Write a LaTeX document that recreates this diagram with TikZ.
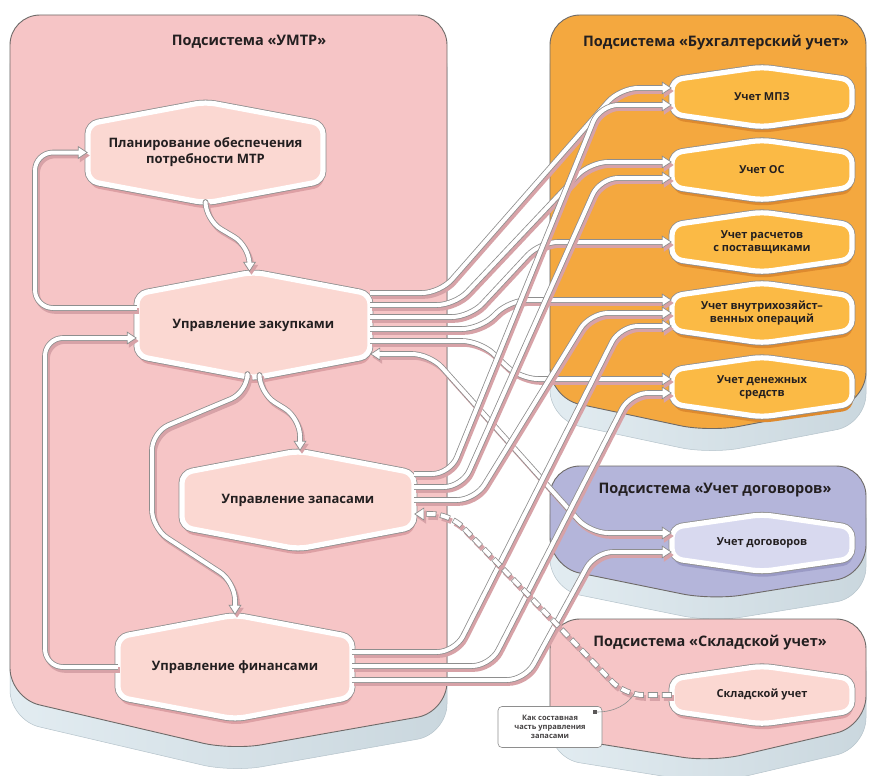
\documentclass[tikz,border=0pt]{standalone}
\usepackage{fontspec}
\setmainfont{Open Sans}
\usetikzlibrary{arrows.meta,calc}

\definecolor{umtr}{HTML}{F6C5C6}
\definecolor{umtrnode}{HTML}{FBD8D2}
\definecolor{umtrshadow}{HTML}{DDA0A4}
\definecolor{buh}{HTML}{F4A83F}
\definecolor{buhnode}{HTML}{FBBA45}
\definecolor{buhshadow}{HTML}{DE8A2E}
\definecolor{dog}{HTML}{B4B5DA}
\definecolor{dognode}{HTML}{D8D9EF}
\definecolor{dogshadow}{HTML}{9A9AC5}
\definecolor{baseL}{HTML}{E2ECF1}
\definecolor{baseR}{HTML}{CAD7DE}
\definecolor{baseline}{HTML}{B5C3CB}
\definecolor{panelline}{HTML}{6E6A68}
\definecolor{wiregray}{HTML}{8E8E8E}
\definecolor{wireshadow}{HTML}{D7A2A7}
\definecolor{txt}{HTML}{231F20}

\tikzset{
  ttl/.style={font=\bfseries\fontsize{14.5}{17}\selectfont, text=txt},
  bigtxt/.style={font=\bfseries\fontsize{13}{16}\selectfont, text=txt, align=center},
  smalltxt/.style={font=\bfseries\fontsize{11}{13}\selectfont, text=txt, align=center},
  notetxt/.style={font=\bfseries\fontsize{7.5}{9}\selectfont, text=txt!85, align=center},
  wire/.style={rounded corners=18pt, line join=round},
  layershadow/.style={draw=wireshadow, line width=5.6pt,
    tipe/.style={-{Triangle[length=10pt,width=13pt]}},
    tipb/.style={{Triangle[length=10pt,width=13pt]}-{Triangle[length=10pt,width=13pt]}},
    dashy/.style={dash pattern=on 10pt off 4pt}},
  layerout/.style={draw=wiregray, line width=5.6pt,
    tipe/.style={-{Triangle[length=10pt,width=13pt,fill=white,line width=0.7pt]}},
    tipb/.style={{Triangle[length=10pt,width=13pt,fill=white,line width=0.7pt]}-{Triangle[length=10pt,width=13pt,fill=white,line width=0.7pt]}},
    dashy/.style={dash pattern=on 10pt off 4pt}},
  layerin/.style={draw=white, line width=4pt,
    tipe/.style={shorten >=8.4pt},
    tipb/.style={shorten >=8.4pt, shorten <=8.4pt},
    dashy/.style={dash pattern=on 8.6pt off 5.4pt, dash phase=13.3pt}},
}

% left, top, right, y bottom-left, x point, y point, y bottom-right, colour
\newcommand\drawpanel[8]{%
  \path[rounded corners=30pt, left color=baseL, right color=baseR, draw=baseline, line width=0.5pt]
    (#1,#2+22) -- (#3,#2+22) -- (#3,#7+22) -- (#5,#6+22) -- (#1,#4+22) -- cycle;
  \path[rounded corners=30pt, fill=#8, draw=panelline, line width=0.9pt]
    (#1,#2) -- (#3,#2) -- (#3,#7) -- (#5,#6) -- (#1,#4) -- cycle;
}

% name, cx, cy, w, h, d, scheme, text style, text
\newcommand\hexnode[9]{%
  \begin{scope}[shift={(#2,#3)}]
    \fill[#7shadow, rounded corners=10pt, shift={(1,6)}]
      (-#4/2,-#5/2+#6) -- (0,-#5/2) -- (#4/2,-#5/2+#6) -- (#4/2,#5/2-#6) -- (0,#5/2) -- (-#4/2,#5/2-#6) -- cycle;
    \draw[wiregray, line width=6.8pt, rounded corners=10pt]
      (-#4/2,-#5/2+#6) -- (0,-#5/2) -- (#4/2,-#5/2+#6) -- (#4/2,#5/2-#6) -- (0,#5/2) -- (-#4/2,#5/2-#6) -- cycle;
    \draw[white, fill=#7node, line width=5.2pt, rounded corners=10pt]
      (-#4/2,-#5/2+#6) -- (0,-#5/2) -- (#4/2,-#5/2+#6) -- (#4/2,#5/2-#6) -- (0,#5/2) -- (-#4/2,#5/2-#6) -- cycle;
  \end{scope}
  \node[#8, minimum width=#4, minimum height=#5, inner sep=0pt] (#1) at (#2,#3) {#9};
}

\newcommand\wire[2]{%
  \begin{scope}[transform canvas={xshift=2pt,yshift=-3pt}]
    \draw[wire, layershadow, #1] #2;
  \end{scope}
  \draw[wire, layerout, #1] #2;
  \draw[wire, layerin, #1] #2;
}

\begin{document}
\begin{tikzpicture}[x=1pt,y=-1pt]
\useasboundingbox (0,0) rectangle (870,776);
\fill[white] (0,0) rectangle (870,776);

% panels
\drawpanel{10}{15}{447}{698}{232}{750}{712}{umtr}
\drawpanel{550}{15}{866}{398}{710}{432}{402}{buh}
\drawpanel{550}{466}{866}{567}{712}{600}{575}{dog}
\drawpanel{550}{619}{866}{736}{712}{762}{726}{umtr}

\node[ttl] (t1) at (249,42) {Подсистема «УМТР»};
\node[ttl] (t2) at (716,43) {Подсистема «Бухгалтерский учет»};
\node[ttl] (t3) at (715,490) {Подсистема «Учет договоров»};
\node[ttl] (t4) at (710,643) {Подсистема «Складской учет»};

% nodes
\hexnode{plan}{205.5}{152.5}{235}{101}{22}{umtr}{bigtxt}{Планирование обеспечения\\потребности МТР}
\hexnode{zak}{253.5}{325}{233}{106}{22}{umtr}{bigtxt}{Управление закупками}
\hexnode{zap}{298}{500}{232}{98}{22}{umtr}{bigtxt}{Управление запасами}
\hexnode{fin}{235}{667}{234}{104}{22}{umtr}{bigtxt}{Управление финансами}

\hexnode{mpz}{762}{97}{180}{60}{13}{buh}{smalltxt}{Учет МПЗ}
\hexnode{os}{762}{170}{180}{60}{13}{buh}{smalltxt}{Учет ОС}
\hexnode{ras}{762}{242}{180}{60}{13}{buh}{smalltxt}{Учет расчетов\\с поставщиками}
\hexnode{vnu}{762}{313}{180}{60}{13}{buh}{smalltxt}{Учет внутрихозяйст–\\венных операций}
\hexnode{den}{762}{387}{180}{60}{13}{buh}{smalltxt}{Учет денежных\\средств}
\hexnode{dg}{762}{543}{180}{57}{13}{dog}{smalltxt}{Учет договоров}
\hexnode{skl}{762}{695}{180}{58}{13}{umtr}{smalltxt}{Складской учет}

% inner UMTR connectors
\wire{tipe}{(plan.south) -- (205.5,220) -- (249.5,246) -- ([xshift=-4pt]zak.north)}
\wire{tipe}{([yshift=17pt]zak.west) -- (35,308) -- (35,152.5) -- (plan.west)}
\wire{tipe}{(fin.west) -- (45,667) -- (45,338) -- ([yshift=-13pt]zak.west)}
\wire{tipe}{([xshift=6pt]zak.south) -- (259.5,393) -- (300,418) -- ([xshift=2pt]zap.north)}
\wire{tipe}{([xshift=-6pt]zak.south) -- (247.5,392) -- (152,432) -- (152,528) -- (235,582) -- (fin.north)}

% from Закупки
\wire{tipe}{([yshift=32pt]zak.east) -- (440,293) -- (620,88) -- ([yshift=9pt]mpz.west)}
\wire{tipe}{([yshift=20pt]zak.east) -- (455,305) -- (590,162) -- ([yshift=8pt]os.west)}
\wire{tipe}{([yshift=8pt]zak.east) -- (470,317) -- (540,242) -- (ras.west)}
\wire{tipe}{([yshift=-4pt]zak.east) -- (480,329) -- (510,300) -- ([yshift=13pt]vnu.west)}
\wire{tipe}{([yshift=-16pt]zak.east) -- (480,341) -- (520,379) -- ([yshift=8pt]den.west)}
\wire{tipb}{([yshift=-29pt]zak.east) -- (430,354) -- (590,533) -- ([yshift=10pt]dg.west)}

% from Запасы
\wire{tipe}{([yshift=26pt]zap.east) -- (450,474) -- (600,105) -- ([yshift=-8pt]mpz.west)}
\wire{tipe}{([yshift=13pt]zap.east) -- (462,487) -- (600,178) -- ([yshift=-8pt]os.west)}
\wire{tipe}{(zap.east) -- (475,500) -- (590,313) -- (vnu.west)}

% from Финансы
\wire{tipe}{([yshift=15pt]fin.east) -- (455,652) -- (620,326) -- ([yshift=-13pt]vnu.west)}
\wire{tipe}{([yshift=1pt]fin.east) -- (490,666) -- (630,393) -- ([yshift=-6pt]den.west)}
\wire{tipe}{([yshift=-13pt]fin.east) -- (525,680) -- (595,552) -- ([yshift=-9pt]dg.west)}

% Складской учет -> Запасы (dashed)
\wire{tipe,dashy}{(skl.west) -- (625,695) -- (450,514) -- ([yshift=-14pt]zap.east)}

% callout
\node[notetxt, draw=wiregray, fill=white, rounded corners=4pt, line width=0.6pt,
      minimum width=104pt, minimum height=41pt, inner sep=2pt] (note) at (550,727)
      {Как составная\\часть управления\\запасами};
\node[fill=txt!75, minimum size=3.2pt, inner sep=0pt] (mark) at (595,712) {};
\coordinate (notept) at (634,694);
\draw[wiregray, line width=0.6pt] (mark) .. controls (615,712) and (628,704) .. (notept);

\end{tikzpicture}
\end{document}
